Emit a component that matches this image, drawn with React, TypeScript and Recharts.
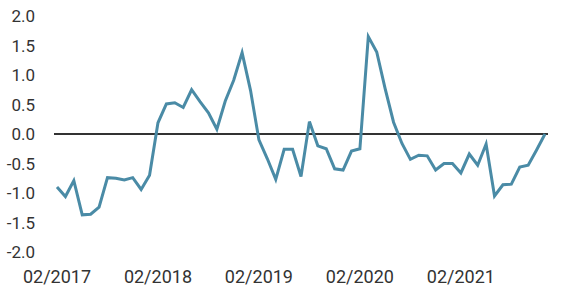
import React from "react";
import { LineChart, Line, XAxis, YAxis, ReferenceLine } from "recharts";

const months: string[] = [
  "02/2017", "03/2017", "04/2017", "05/2017", "06/2017", "07/2017", "08/2017", "09/2017", "10/2017", "11/2017", "12/2017",
  "01/2018", "02/2018", "03/2018", "04/2018", "05/2018", "06/2018", "07/2018", "08/2018", "09/2018", "10/2018", "11/2018", "12/2018",
  "01/2019", "02/2019", "03/2019", "04/2019", "05/2019", "06/2019", "07/2019", "08/2019", "09/2019", "10/2019", "11/2019", "12/2019",
  "01/2020", "02/2020", "03/2020", "04/2020", "05/2020", "06/2020", "07/2020", "08/2020", "09/2020", "10/2020", "11/2020", "12/2020",
  "01/2021", "02/2021", "03/2021", "04/2021", "05/2021", "06/2021", "07/2021", "08/2021", "09/2021", "10/2021", "11/2021", "12/2021",
];

const values: number[] = [
  -0.9, -1.06, -0.79, -1.37, -1.36, -1.24, -0.74, -0.75, -0.78, -0.74, -0.94,
  -0.7, 0.19, 0.51, 0.53, 0.45, 0.75, 0.55, 0.36, 0.08, 0.56, 0.91, 1.38,
  0.74, -0.1, -0.42, -0.77, -0.26, -0.26, -0.72, 0.21, -0.2, -0.25, -0.59, -0.61,
  -0.29, -0.25, 1.65, 1.39, 0.77, 0.2, -0.16, -0.43, -0.36, -0.37, -0.61, -0.5,
  -0.5, -0.66, -0.34, -0.53, -0.17, -1.05, -0.86, -0.85, -0.56, -0.53, -0.27, 0.0,
];

const xTicks: string[] = ["02/2017", "02/2018", "02/2019", "02/2020", "02/2021"];
const yTicks: number[] = [-2, -1.5, -1, -0.5, 0, 0.5, 1, 1.5, 2];

const data = months.map((m, i) => ({ month: m, value: values[i] }));

const yTickStyle = { fontFamily: "Roboto", fontSize: 17, fill: "#333333" };
const xTickStyle = { fontFamily: "Roboto", fontSize: 18, fill: "#333333" };

export default function App() {
  return (
    <div style={{ position: "fixed", left: 0, top: 0, width: 561, height: 298, background: "#fff" }}>
      <LineChart width={561} height={298} data={data} margin={{ top: 16, right: 13, bottom: 0, left: 0 }}>
        <XAxis
          dataKey="month"
          ticks={xTicks}
          interval={0}
          axisLine={false}
          tickLine={false}
          tickSize={0}
          tickMargin={18}
          height={46}
          padding={{ left: 3, right: 3 }}
          tick={xTickStyle}
        />
        <YAxis
          domain={[-2, 2]}
          ticks={yTicks}
          axisLine={false}
          tickLine={false}
          tickSize={0}
          tickMargin={19}
          width={54}
          tick={yTickStyle}
          tickFormatter={(v: number) => v.toFixed(1)}
        />
        <ReferenceLine y={0} stroke="#333333" strokeWidth={2} />
        <Line
          type="linear"
          dataKey="value"
          stroke="#4A8BA6"
          strokeWidth={3}
          dot={false}
          isAnimationActive={false}
        />
      </LineChart>
    </div>
  );
}
